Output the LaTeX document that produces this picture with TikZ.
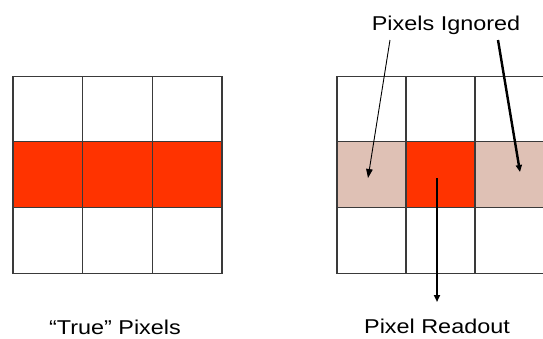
\documentclass[tikz,border=0pt]{standalone}
\usepackage{fontspec}
\setmainfont{Liberation Sans}
\usetikzlibrary{arrows.meta}
\definecolor{hot}{HTML}{FF3300}
\definecolor{pale}{HTML}{DFC1B5}
\definecolor{gridline}{HTML}{3A3A3A}
\begin{document}
\begin{tikzpicture}[x=1pt,y=-1pt,
  lcell/.style={draw=gridline,line width=1.1pt,inner sep=0pt,outer sep=0pt,minimum width=69.67pt,minimum height=65.67pt},
  rcell/.style={draw=gridline,line width=1.1pt,inner sep=0pt,outer sep=0pt,minimum width=69pt,minimum height=65.67pt},
  lbl/.style={font=\fontsize{20}{22}\selectfont,xscale=1.17,inner sep=0pt,anchor=base},
  arr/.style={-{Triangle[length=9pt,width=6.5pt]},black}]
\useasboundingbox (0,0) rectangle (543,338);
\begin{scope}
\clip (0,0) rectangle (543,338);
% left grid
\foreach \c/\cx in {1/47.83,2/117.5,3/187.17}{
  \node[lcell,fill=white] (L1\c) at (\cx,109) {};
  \node[lcell,fill=hot] (L2\c) at (\cx,174.67) {};
  \node[lcell,fill=white] (L3\c) at (\cx,240.33) {};
}
% right grid
\node[rcell,fill=white] (R11) at (371.5,109) {};
\node[rcell,fill=white] (R12) at (440.5,109) {};
\node[rcell,fill=white] (R13) at (509.5,109) {};
\node[rcell,fill=pale] (R21) at (371.5,174.67) {};
\node[rcell,fill=hot] (R22) at (440.5,174.67) {};
\node[rcell,fill=pale] (R23) at (509.5,174.67) {};
\node[rcell,fill=white] (R31) at (371.5,240.33) {};
\node[rcell,fill=white] (R32) at (440.5,240.33) {};
\node[rcell,fill=white] (R33) at (509.5,240.33) {};
\end{scope}
% labels
\node[lbl] (ign) at (446,30) {Pixels Ignored};
\node[lbl] (rd) at (437,333) {Pixel Readout};
\node[lbl] (tp) at (115,334) {“True” Pixels};
% arrow end points
\coordinate (a1s) at (390,40);
\coordinate (a1e) at (368,178);
\coordinate (a2s) at (498,40);
\coordinate (a2e) at (520,172);
\coordinate (a3s) at (437,178);
\coordinate (a3e) at (437,302);
\draw[arr,line width=0.9pt] (a1s) -- (a1e);
\draw[arr,line width=2.4pt,-{Triangle[length=7pt,width=6pt]}] (a2s) -- (a2e);
\draw[arr,line width=1.8pt,-{Triangle[length=7pt,width=6pt]}] (a3s) -- (a3e);
\end{tikzpicture}
\end{document}
